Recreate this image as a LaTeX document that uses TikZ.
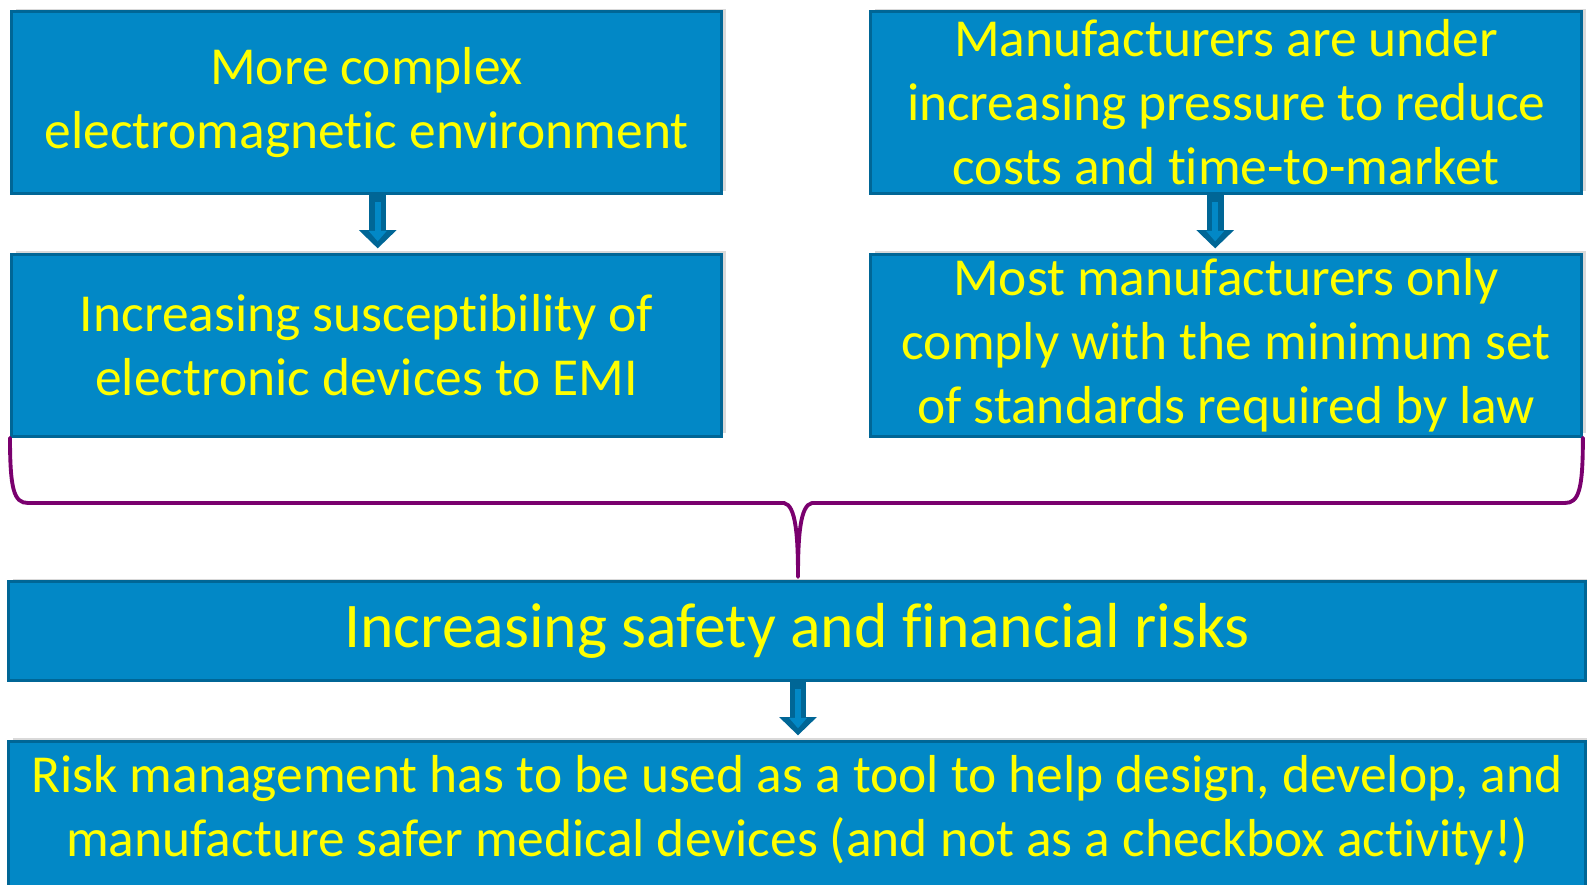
\documentclass[tikz,border=0pt]{standalone}
\usepackage{fontspec}
\setmainfont{Carlito}[Ligatures=NoCommon]
\usetikzlibrary{positioning,arrows.meta,calc,shadows}
\definecolor{boxblue}{HTML}{0288C6}
\definecolor{edgeblue}{HTML}{006696}
\definecolor{textyellow}{HTML}{FFFF00}
\definecolor{bracepurple}{HTML}{7A006E}

\begin{document}
\begin{tikzpicture}[
  x=0.01cm, y=-0.01cm,
  font=\fontsize{15.2}{18.2}\selectfont,
  node distance=0.575cm and 1.46cm,
  box/.style={draw=edgeblue,line width=0.85pt,fill=boxblue,text=textyellow,align=center,inner sep=0pt,
    minimum width=7.1cm,minimum height=1.82cm,
    drop shadow={shadow xshift=1.2pt,shadow yshift=0.8pt,opacity=0.25,fill=black!60}},
  wide/.style={box,minimum width=15.76cm},
  shaft/.style={line width=4.8pt,edgeblue,shorten >=1.2pt,-{Triangle[length=5.2pt,width=10.4pt]}},
  core/.style={line width=1.6pt,boxblue,shorten <=2pt,shorten >=3.2pt,-{Triangle[length=3pt,width=5pt]}},
  brace/.style={bracepurple,line width=1.1pt,line cap=round,line join=round}
]
\useasboundingbox (0,0) rectangle (1587,885);

\node[box,anchor=north west] (emenv) at (10,10) {More complex\\electromagnetic environment};
\node[box,right=of emenv] (pressure) {Manufacturers are under\\increasing pressure to reduce\\costs and time-to-market};
\node[box,below=of emenv] (suscept) {Increasing susceptibility of\\electronic devices to EMI};
\node[box,below=of pressure] (comply) {Most manufacturers only\\comply with the minimum set\\of standards required by law};

\node[wide,anchor=north,minimum height=0.99cm,font=\fontsize{18.1}{21}\selectfont] (risks) at (797,580) {Increasing safety and financial risks};
\node[wide,below=of risks,minimum height=1.52cm,text depth=6.6pt] (tool) {Risk management has to be used as a tool to help design, develop, and\\manufacture safer medical devices (and not as a checkbox activity!)};

% block arrows: dark outline first, light core on top
\foreach \a/\b/\dx in {emenv/suscept/11,pressure/comply/-11,risks/tool/1} {
  \draw[shaft] ($(\a.south)+(\dx,0)$) -- ($(\b.north)+(\dx,0)$);
  \draw[core] ($(\a.south)+(\dx,0)$) -- ($(\b.north)+(\dx,0)$);
}

% curly bracket joining the four upper boxes
\coordinate (tip) at ($(risks.north)+(1,-3)$);
\coordinate (bar) at ($(tip)+(0,-74)$);
\coordinate (bl) at ($(suscept.south west)+(18,0)$);
\coordinate (br) at ($(comply.south east)+(-18,0)$);
\draw[brace] (suscept.south west) .. controls +(0,52) and +(-14,0) .. (bl |- bar)
  -- ($(bar)+(-14,0)$) .. controls +(12,2) and +(0,-40) .. (tip)
  .. controls +(0,-40) and +(-12,2) .. ($(bar)+(14,0)$)
  -- (br |- bar) .. controls +(14,0) and +(0,52) .. (comply.south east);
\end{tikzpicture}
\end{document}
